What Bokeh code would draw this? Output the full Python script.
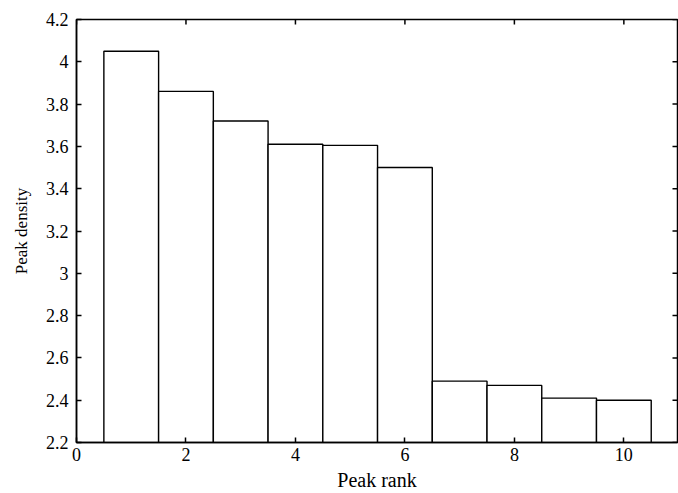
from bokeh.plotting import figure
from bokeh.models import LinearAxis, FixedTicker, Range1d
from bokeh.embed import file_html
from bokeh.resources import INLINE

ranks = [1, 2, 3, 4, 5, 6, 7, 8, 9, 10]
densities = [4.05, 3.86, 3.72, 3.61, 3.605, 3.50, 2.49, 2.47, 2.41, 2.40]
x_ticks = [0, 2, 4, 6, 8, 10]
x_labels = ["0", "2", "4", "6", "8", "10"]
y_ticks = [2.2, 2.4, 2.6, 2.8, 3.0, 3.2, 3.4, 3.6, 3.8, 4.0, 4.2]
y_labels = ["2.2", "2.4", "2.6", "2.8", "3", "3.2", "3.4", "3.6", "3.8", "4", "4.2"]
x_min, x_max = 0, 10.98
y_min, y_max = 2.2, 4.2

FONT = "Liberation Serif"

p = figure(width=678, height=493, output_backend="svg", toolbar_location=None,
           x_range=Range1d(x_min, x_max), y_range=Range1d(y_min, y_max),
           x_axis_location=None, y_axis_location=None,
           min_border_left=76, min_border_top=19, min_border_bottom=50, min_border_right=1)
p.grid.visible = False
p.outline_line_color = "black"
p.outline_line_width = 1.5
p.background_fill_color = "white"
p.border_fill_color = "white"

p.vbar(x=ranks, top=densities, bottom=y_min, width=1.0,
       fill_color="white", line_color="black", line_width=1.4)

# mirrored inward ticks on the top and right edges (half of each dash is clipped by the frame)
p.scatter(x=x_ticks, y=[y_max] * len(x_ticks), marker="dash", angle=1.5708,
          size=10, line_color="black", line_width=1.5)
p.scatter(x=[x_max] * len(y_ticks), y=y_ticks, marker="dash",
          size=10, line_color="black", line_width=1.5)

def style(ax):
    ax.major_tick_in = 5
    ax.major_tick_out = 0
    ax.minor_tick_in = 0
    ax.minor_tick_out = 0
    ax.axis_line_color = "black"
    ax.axis_line_width = 1.5
    ax.major_tick_line_width = 1.5
    ax.major_label_text_font = FONT
    ax.major_label_text_font_size = "18px"
    ax.major_label_text_color = "black"
    ax.axis_label_text_font = FONT
    ax.axis_label_text_font_style = "normal"
    ax.axis_label_text_color = "black"

xb = LinearAxis(ticker=FixedTicker(ticks=x_ticks), axis_label="Peak rank",
                major_label_overrides=dict(zip(x_ticks, x_labels)))
style(xb)
xb.axis_label_text_font_size = "20px"
xb.major_label_standoff = 5
xb.axis_label_standoff = 5
p.add_layout(xb, "below")

yl = LinearAxis(ticker=FixedTicker(ticks=y_ticks), axis_label="Peak density",
                major_label_overrides=dict(zip(y_ticks, y_labels)))
style(yl)
yl.axis_label_text_font_size = "17px"
yl.major_label_standoff = 8
yl.axis_label_standoff = 12
p.add_layout(yl, "left")

open("out.html", "w").write(file_html(p, INLINE))
